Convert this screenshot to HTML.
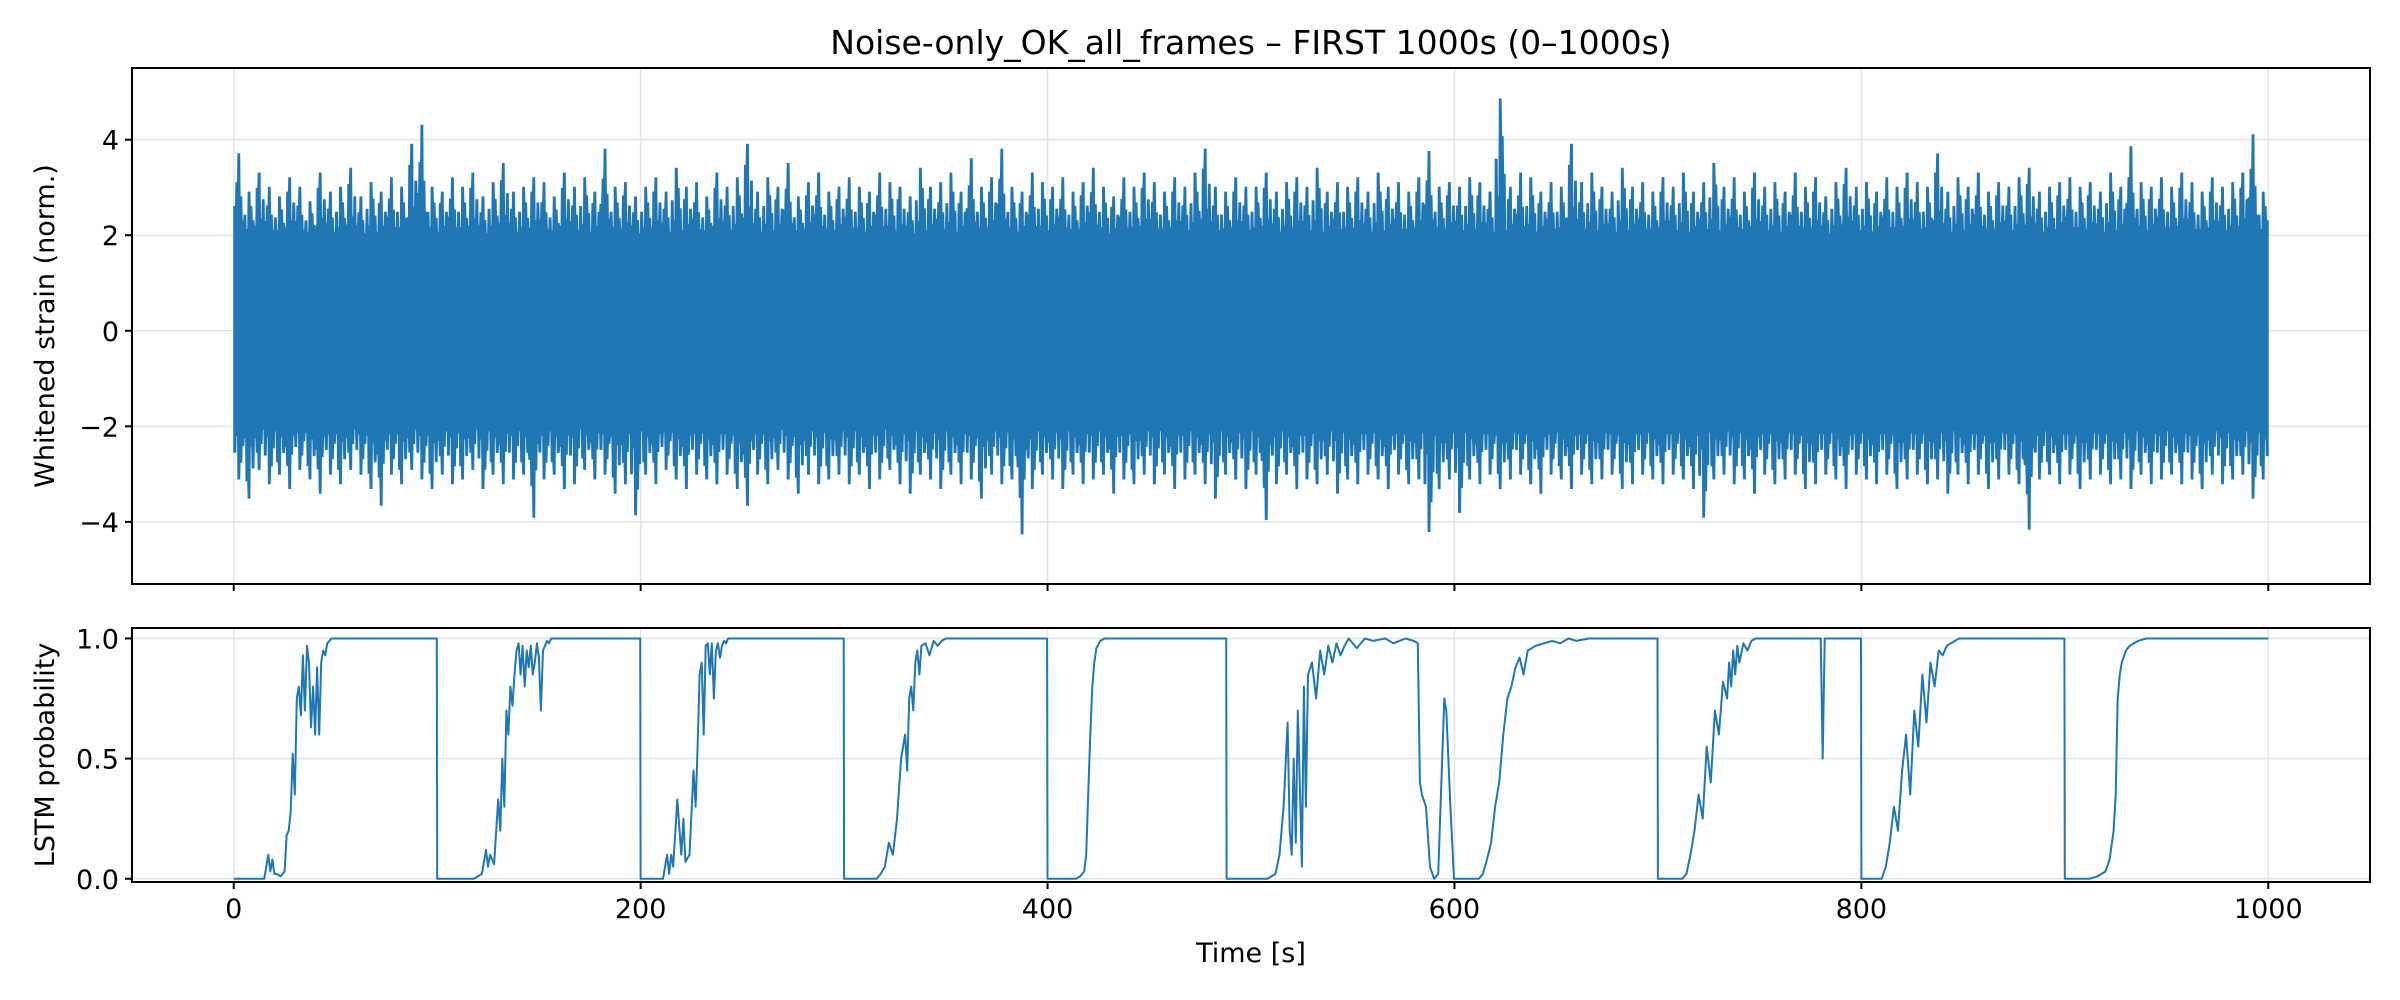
<!DOCTYPE html>
<html><head><meta charset="utf-8"><style>
html,body{margin:0;padding:0;background:#fff;}
svg{display:block;font-family:"DejaVu Sans","Liberation Sans",sans-serif;}
</style></head><body>
<svg id="fig" width="2400" height="1000" viewBox="0 0 2400 1000" xmlns="http://www.w3.org/2000/svg">
<rect width="2400" height="1000" fill="#fff"/>
<text x="1251" y="54" font-size="33" text-anchor="middle" fill="#000">Noise-only_OK_all_frames – FIRST 1000s (0–1000s)</text>
<g id="top"></g><g id="bot"></g>
<text transform="translate(54,326) rotate(-90)" font-size="27" text-anchor="middle" fill="#000">Whitened strain (norm.)</text>
<text transform="translate(54,755) rotate(-90)" font-size="27" text-anchor="middle" fill="#000">LSTM probability</text>
<text x="1251" y="962" font-size="27" text-anchor="middle" fill="#000">Time [s]</text>
</svg>
<script>
// ---- data ----
const xTicks = [0, 200, 400, 600, 800, 1000];
const strainTicks = [-4, -2, 0, 2, 4];
const probTicks = [0.0, 0.5, 1.0];
const probTickLabels = ["0.0", "0.5", "1.0"];
const binSeconds = 5;
const strainUpper = [
3.7,2.9,3.3,3.0,2.8,3.2,3.0,2.7,3.3,2.9,
3.0,3.4,2.8,3.1,2.9,3.2,3.0,3.9,4.3,3.0,
2.9,3.2,3.0,3.3,2.8,3.1,3.5,2.9,3.0,3.2,
3.1,2.8,3.3,3.0,3.2,2.9,3.8,3.0,3.1,2.8,
3.0,3.2,2.9,3.4,3.0,3.1,2.8,3.3,3.0,3.2,
3.9,2.9,3.2,3.0,3.5,2.8,3.1,3.3,2.9,3.0,
3.2,3.0,2.9,3.3,3.1,3.0,2.8,3.4,3.0,3.1,
3.3,2.9,3.6,3.0,3.2,3.8,3.0,2.9,3.3,3.1,
3.0,3.2,2.9,3.1,3.4,3.0,2.8,3.2,3.0,3.3,
3.1,2.9,3.2,3.0,3.3,3.8,3.0,2.9,3.2,3.0,
3.0,3.3,2.9,3.1,3.2,3.0,3.4,2.9,3.1,3.0,
3.2,2.9,3.3,3.0,3.1,2.9,3.2,3.75,3.0,3.1,
3.0,3.2,3.1,2.9,4.85,3.0,3.3,3.2,2.9,3.1,
3.0,3.9,3.1,3.3,3.0,2.9,3.4,3.0,3.1,2.9,
3.2,3.0,3.3,2.9,3.1,3.5,3.0,3.2,2.9,3.3,
3.0,3.1,2.9,3.3,3.0,3.2,2.8,3.1,3.4,3.0,
3.1,2.9,3.2,3.0,3.3,3.1,3.0,3.7,2.9,3.2,
3.0,3.3,2.9,3.1,3.0,3.2,3.4,2.9,3.0,3.1,
3.2,3.0,3.1,2.9,3.3,3.0,3.85,3.1,3.0,3.2,
3.0,3.3,3.1,2.9,3.2,3.0,3.1,3.3,4.1,2.9];
const strainLower = [
-3.1,-3.5,-2.9,-3.2,-3.0,-3.3,-2.9,-3.1,-3.4,-3.0,
-3.2,-2.9,-3.0,-3.3,-3.65,-3.0,-3.2,-2.9,-3.1,-3.3,
-3.0,-3.2,-3.1,-2.9,-3.3,-3.0,-3.2,-3.1,-3.0,-3.9,
-3.1,-3.0,-3.3,-3.2,-2.9,-3.1,-3.0,-3.4,-3.2,-3.85,
-3.0,-3.2,-2.9,-3.1,-3.3,-3.0,-3.1,-3.2,-3.0,-3.3,
-3.65,-3.0,-3.2,-2.9,-3.1,-3.4,-3.0,-3.2,-3.1,-3.0,
-3.2,-3.0,-3.3,-3.1,-2.9,-3.2,-3.4,-3.0,-3.1,-3.3,
-3.0,-3.2,-3.1,-3.5,-3.0,-3.2,-3.1,-4.25,-3.3,-3.0,
-3.1,-3.3,-3.0,-3.2,-3.1,-3.0,-3.4,-3.1,-3.2,-3.0,
-3.2,-3.0,-3.3,-3.1,-3.0,-3.2,-3.5,-3.0,-3.1,-3.3,
-3.0,-3.95,-3.2,-3.0,-3.3,-3.1,-3.2,-3.0,-3.4,-3.1,
-3.2,-3.0,-3.1,-3.3,-3.0,-3.2,-3.1,-4.2,-3.3,-3.1,
-3.8,-3.1,-3.2,-3.0,-3.3,-3.1,-3.0,-3.2,-3.4,-3.0,
-3.1,-3.3,-3.0,-3.2,-3.1,-3.0,-3.3,-3.2,-3.0,-3.1,
-3.2,-3.0,-3.1,-3.3,-3.9,-3.1,-3.0,-3.2,-3.1,-3.4,
-3.0,-3.2,-3.1,-3.0,-3.3,-3.2,-3.0,-3.1,-3.3,-3.0,
-3.1,-3.2,-3.0,-3.3,-3.1,-3.0,-3.2,-3.1,-3.4,-3.0,
-3.2,-3.0,-3.3,-3.1,-3.0,-3.2,-4.15,-3.1,-3.0,-3.2,
-3.0,-3.3,-3.1,-3.0,-3.2,-3.1,-3.3,-3.0,-3.2,-3.1,
-3.0,-3.2,-3.1,-3.3,-3.0,-3.2,-3.1,-3.0,-3.5,-3.1];
const strainCoreHi = 1.7;
const strainCoreLo = -1.7;
const probTimes = [
0,15,17,18,19,20,21,23,25,26,27,28,29,30,30.5,31,32,33,34,35,36,37,38,39,40,41,42,43,44,45,46,47,48,50,52,55,99.8,
100,118,120,122,124,125,126,128,129,130,131,132,133,134,135,136,137,138,139,140,141,142,143,144,145,146,147,148,149,150,151,152,153,154,155,156,158,162,199.8,
200,211,213,214,215,216,218,220,221,222,224,226,227,228,229,230,231,232,233,234,235,236,237,238,239,240,241,242,243,244,246,248,250,254,299.8,
300,316,318,320,322,324,326,328,330,331,332,333,334,335,336,337,338,340,342,344,346,348,350,352,356,399.8,
400,414,416,418,419,420,421,422,423,424,426,428,432,487.8,
488,508,512,514,516,518,519,520,521,522,523,524,525,526,527,528,530,532,534,536,538,540,542,544,546,548,552,556,560,566,570,576,580,582,583,584,586,588,590,592,594,595,596,598,599.8,
600,612,614,616,618,620,622,624,626,628,630,632,634,636,638,640,644,648,652,656,660,666,672,699.8,
700,712,714,716,718,720,722,724,726,728,730,732,734,735,736,737,738,739,740,742,744,746,748,750,754,780,781,782,799.8,
800,810,812,814,816,818,820,822,824,826,828,830,832,834,836,838,840,842,844,846,848,852,899.8,
900,912,916,920,922,924,925,926,927,928,930,932,934,936,940,1000];
const probValues = [
0,0,0.1,0.03,0.08,0.02,0.02,0.01,0.03,0.18,0.2,0.28,0.52,0.35,0.55,0.75,0.8,0.68,0.93,0.7,0.97,0.9,0.63,0.8,0.6,0.88,0.6,0.9,0.95,0.93,0.98,0.99,1,1,1,1,1,
0,0,0.01,0.02,0.12,0.05,0.1,0.06,0.2,0.33,0.2,0.5,0.3,0.7,0.6,0.8,0.72,0.85,0.95,0.98,0.85,0.97,0.8,0.95,0.88,0.97,0.85,0.9,0.98,0.92,0.7,0.95,0.97,0.99,0.98,1,1,1,1,
0,0,0.1,0.02,0.1,0.05,0.33,0.1,0.25,0.07,0.1,0.45,0.3,0.55,0.85,0.9,0.6,0.97,0.98,0.85,0.98,0.75,0.95,0.98,0.92,0.97,0.99,0.98,1,1,1,1,1,1,1,
0,0,0.02,0.05,0.15,0.1,0.25,0.5,0.6,0.45,0.75,0.8,0.7,0.9,0.95,0.85,0.97,0.98,0.93,0.99,0.97,0.99,1,1,1,1,
0,0,0.01,0.03,0.1,0.35,0.6,0.8,0.9,0.96,0.99,1,1,1,
0,0,0.02,0.1,0.3,0.65,0.2,0.1,0.5,0.15,0.7,0.4,0.05,0.8,0.3,0.85,0.9,0.75,0.95,0.85,0.97,0.9,0.98,0.93,0.97,1,0.96,1,0.99,1,0.98,1,0.99,0.98,0.4,0.35,0.3,0.05,0,0.02,0.5,0.75,0.7,0.3,0,
0,0,0.02,0.08,0.15,0.3,0.4,0.6,0.75,0.8,0.88,0.92,0.85,0.95,0.96,0.97,0.98,0.99,0.98,1,0.99,1,1,1,
0,0,0.02,0.1,0.2,0.35,0.25,0.55,0.4,0.7,0.6,0.82,0.75,0.9,0.8,0.95,0.85,0.97,0.9,0.98,0.95,0.99,1,1,1,1,0.5,1,1,
0,0,0.05,0.15,0.3,0.2,0.45,0.6,0.35,0.7,0.55,0.85,0.65,0.9,0.8,0.95,0.93,0.97,0.98,0.99,1,1,1,
0,0,0.01,0.03,0.08,0.2,0.35,0.75,0.85,0.9,0.95,0.97,0.98,0.99,1,1];

// ---- geometry ----
const NS="http://www.w3.org/2000/svg";
const X0=132,X1=2370;
const xMin=-50,xMax=1050;
const sx=v=>X0+(v-xMin)/(xMax-xMin)*(X1-X0);
const T={top:68,bottom:584,min:-5.3,max:5.5};
const B={top:628,bottom:882,min:-0.0135,max:1.0435};
const syT=v=>T.bottom-(v-T.min)/(T.max-T.min)*(T.bottom-T.top);
const syB=v=>B.bottom-(v-B.min)/(B.max-B.min)*(B.bottom-B.top);
// visual texture of the noise edge (relative needle heights within a bin; peak = 1)
const needleShape = [[0.45,0.7,1.0,0.55,0.3],[0.6,0.35,1.0,0.75,0.5],[0.3,0.8,1.0,0.4,0.65]];
function mk(tag,attrs,parent){const e=document.createElementNS(NS,tag);for(const k in attrs)e.setAttribute(k,attrs[k]);parent.appendChild(e);return e;}
const gT=document.getElementById('top'),gB=document.getElementById('bot');

function axesFrame(g,ax,sy,yt,name){
  xTicks.forEach(v=>{
    const l=mk('line',{x1:sx(v),x2:sx(v),y1:ax.top,y2:ax.bottom,stroke:'#e5e5e5','stroke-width':1.6},g);
    
    
  });
  yt.forEach(v=>{
    const l=mk('line',{x1:X0,x2:X1,y1:sy(v),y2:sy(v),stroke:'#e5e5e5','stroke-width':1.6},g);
    
    
  });
}
function axesDecor(g,ax,sy,yt,ylab,name,showXLabels){
  const f=mk('rect',{x:X0,y:ax.top,width:X1-X0,height:ax.bottom-ax.top,fill:'none',stroke:'#000','stroke-width':2},g);
  
  
  xTicks.forEach(v=>{
    const t=mk('line',{x1:sx(v),x2:sx(v),y1:ax.bottom,y2:ax.bottom+7,stroke:'#000','stroke-width':2},g);
    
    
    if(showXLabels){
      const tx=mk('text',{x:sx(v),y:ax.bottom+36,'font-size':27,'text-anchor':'middle',fill:'#000'},g);
      tx.textContent=String(v);
      
      
    }
  });
  yt.forEach((v,i)=>{
    const t=mk('line',{x1:X0-7,x2:X0,y1:sy(v),y2:sy(v),stroke:'#000','stroke-width':2},g);
    
    
    const tx=mk('text',{x:X0-13,y:sy(v)+10,'font-size':27,'text-anchor':'end',fill:'#000'},g);
    tx.textContent=ylab?ylab[i]:(v<0?'\u2212'+Math.abs(v):String(v));
    
    
  });
}

// top panel
axesFrame(gT,T,syT,strainTicks,'strain');
(function(){
  let top=[],bot=[];
  const n=strainUpper.length;
  for(let i=0;i<n;i++){
    const t0=i*binSeconds, sh=needleShape[i%3], k=sh.length;
    for(let j=0;j<k;j++){
      const a=sx(t0+binSeconds*(j+0.1)/k), b=sx(t0+binSeconds*(j+0.9)/k);
      const h=strainCoreHi+(strainUpper[i]-strainCoreHi)*sh[j];
      top.push([a,syT(h)],[b,syT(h)]);
    }
  }
  for(let i=n-1;i>=0;i--){
    const t0=i*binSeconds, sh=needleShape[(i+1)%3], k=sh.length;
    for(let j=k-1;j>=0;j--){
      const a=sx(t0+binSeconds*(j+0.9)/k), b=sx(t0+binSeconds*(j+0.1)/k);
      const h=strainCoreLo+(strainLower[i]-strainCoreLo)*sh[j];
      bot.push([a,syT(h)],[b,syT(h)]);
    }
  }
  const pts=top.concat(bot).map(p=>p[0].toFixed(1)+','+p[1].toFixed(1)).join(' ');
  const pg=mk('polygon',{points:pts,fill:'#1f77b4',stroke:'#1f77b4','stroke-width':1.2,'stroke-linejoin':'miter'},gT);
  
  
})();
axesDecor(gT,T,syT,strainTicks,null,'strain',false);

// bottom panel
axesFrame(gB,B,syB,probTicks,'prob');
(function(){
  const pts=probTimes.map((t,i)=>sx(t).toFixed(1)+','+syB(probValues[i]).toFixed(1)).join(' ');
  const pl=mk('polyline',{points:pts,fill:'none',stroke:'#1f77b4','stroke-width':2,'stroke-linejoin':'round'},gB);
  
  
})();
axesDecor(gB,B,syB,probTicks,probTickLabels,'prob',true);
</script>
</body></html>
